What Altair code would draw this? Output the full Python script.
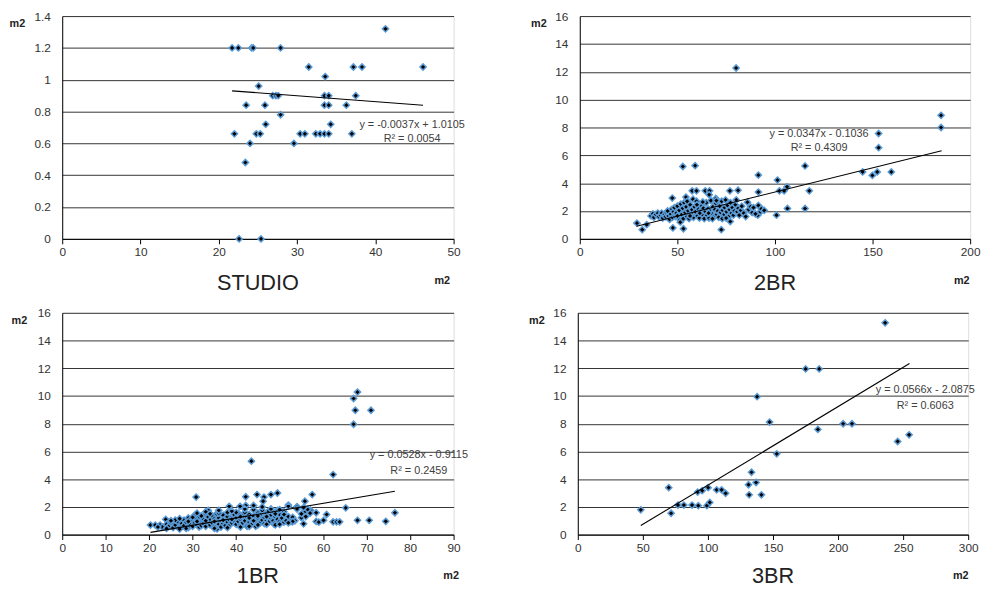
import altair as alt
import pandas as pd

FONT = "Liberation Sans"
BLUE = "#5b9bd5"

# ---------------- data (x = floor area m2, y = m2) ----------------
studio_pts = [
    (21.7, 1.2), (22.5, 1.2), (24.2, 1.2), (24.4, 1.2), (27.9, 1.2), (41.3, 1.32),
    (31.5, 1.08), (37.2, 1.08), (38.3, 1.08), (46.1, 1.08), (33.6, 1.02), (25.1, 0.96),
    (26.9, 0.9), (27.3, 0.9), (27.6, 0.9), (33.5, 0.9), (34.05, 0.9), (37.5, 0.9),
    (23.5, 0.84), (25.9, 0.84), (33.5, 0.84), (34.05, 0.84), (36.3, 0.84), (27.9, 0.78),
    (26.0, 0.72), (34.3, 0.72), (22.0, 0.66), (24.8, 0.66), (25.3, 0.66), (30.4, 0.66),
    (31.0, 0.66), (32.4, 0.66), (32.95, 0.66), (33.5, 0.66), (34.05, 0.66), (37.0, 0.66),
    (24.0, 0.6), (29.6, 0.6), (23.4, 0.48), (22.6, 0.0), (25.4, 0.0),
]

br2_pts = [
    (80.1, 12.27), (185.1, 8.87), (185.1, 8.0), (153.1, 7.57), (153.1, 6.55), (52.8, 5.2),
    (59.1, 5.26), (115.4, 5.24), (91.5, 4.58), (144.9, 4.81), (149.9, 4.56), (152.4, 4.81),
    (159.6, 4.81), (101.3, 4.22), (102.3, 3.45), (104.7, 3.45), (106.2, 3.74), (117.6, 3.45),
    (91.5, 3.36), (106.4, 2.18), (115.4, 2.18), (100.8, 1.7), (72.5, 0.66), (32.0, 0.66),
    (47.7, 0.79), (53.1, 0.73), (29.3, 1.13), (34.3, 1.02), (76.9, 3.45), (81.1, 3.49),
    (57.6, 3.45), (59.8, 3.45), (64.3, 3.45), (66.5, 3.45), (47.4, 2.93), (54.4, 3.0),
    (66.3, 3.17), (69.7, 2.9), (85.9, 2.63), (91.5, 2.4), (88.3, 1.88), (91.2, 1.7),
    (93.6, 2.1), (77.1, 1.25),
    (36.5, 1.65), (37.5, 1.8), (38.0, 1.55), (39.0, 1.75), (40.0, 1.85), (40.5, 1.6),
    (41.5, 1.7), (42.0, 1.85), (42.5, 1.5), (43.5, 1.75), (44.0, 1.6), (44.5, 1.9),
    (45.5, 1.65), (46.0, 1.4), (46.5, 1.8), (47.0, 2.1), (47.5, 1.55), (48.0, 1.95),
    (48.5, 2.25), (49.0, 1.6), (49.5, 1.85), (50.0, 2.35), (50.5, 1.5), (51.0, 2.05),
    (51.5, 1.2), (51.8, 2.5), (52.2, 1.75), (52.7, 2.2), (53.0, 1.45), (53.5, 2.6),
    (54.0, 1.9), (54.5, 2.3), (55.0, 1.6), (55.5, 2.0), (56.0, 1.45), (56.5, 2.45),
    (57.0, 1.8), (57.5, 2.1), (58.0, 2.85), (58.3, 1.55), (58.8, 2.3), (59.3, 1.95),
    (59.8, 2.7), (60.3, 1.65), (60.8, 2.15), (61.3, 1.5), (61.8, 2.0), (62.3, 2.4),
    (62.8, 1.75), (63.3, 2.2), (63.8, 1.45), (64.3, 1.95), (64.8, 2.6), (65.2, 1.7),
    (65.7, 2.15), (66.2, 1.5), (66.7, 2.0), (67.2, 2.75), (67.7, 1.8), (68.2, 2.3),
    (68.7, 1.6), (69.2, 2.1), (69.7, 2.55), (70.2, 1.75), (70.7, 2.0), (71.2, 1.55),
    (71.7, 2.35), (72.2, 1.9), (72.7, 2.7), (73.2, 2.05), (73.7, 1.7), (74.2, 2.25),
    (74.7, 2.8), (75.2, 1.95), (75.7, 2.4), (76.2, 1.6), (76.7, 2.1), (77.2, 2.6),
    (77.7, 1.85), (78.2, 2.25), (78.7, 1.7), (79.2, 2.0), (79.7, 2.45), (80.2, 2.8),
    (80.7, 1.95), (81.2, 2.2), (81.7, 1.7), (82.5, 2.05), (83.0, 2.35), (84.0, 1.85),
    (85.0, 1.6), (86.5, 2.1), (87.5, 2.3), (89.0, 2.25), (90.0, 1.8), (92.5, 1.95),
    (93.0, 2.15), (94.5, 2.05), (45.0, 2.0), (50.0, 1.65), (55.0, 2.7), (60.0, 2.45),
    (63.0, 2.65), (68.0, 1.45), (73.0, 1.45), (56.5, 1.65), (61.5, 1.85), (66.0, 1.85),
    (70.0, 2.75), (75.0, 1.5),
]

br1_pts = [
    (67.9, 10.28), (67.0, 9.82), (67.4, 8.97), (71.0, 8.97), (67.0, 7.96), (43.5, 5.3),
    (62.3, 4.33), (30.8, 2.71), (42.2, 2.73), (44.8, 2.89), (46.4, 2.71), (48.0, 2.89),
    (49.5, 3.0), (57.5, 2.89), (46.2, 2.41), (55.8, 2.41), (38.4, 2.04), (40.9, 2.04),
    (42.2, 2.1), (52.0, 2.13), (54.0, 2.02), (65.2, 1.93), (76.5, 1.58), (58.4, 1.58),
    (60.8, 1.45), (55.9, 1.67), (57.1, 1.77), (55.0, 1.22), (62.3, 0.92), (63.1, 0.92),
    (63.8, 0.92), (67.9, 1.03), (70.6, 1.03), (74.4, 0.96), (58.4, 0.95), (59.0, 0.9),
    (60.1, 1.03), (55.5, 0.78), (52.9, 0.92), (33.6, 1.74), (23.8, 1.1), (20.3, 0.69),
    (21.4, 0.69), (22.5, 0.69), (35.6, 0.41), (48.7, 0.76),
    (23.0, 0.55), (24.0, 0.75), (24.5, 0.6), (25.0, 0.85), (25.5, 0.5), (26.0, 0.7),
    (26.5, 0.95), (27.0, 0.55), (27.5, 0.8), (28.0, 1.05), (28.0, 0.65), (28.5, 0.9),
    (29.0, 0.5), (29.0, 1.2), (29.5, 0.75), (30.0, 1.0), (30.0, 0.6), (30.5, 1.4),
    (30.5, 0.85), (31.0, 0.7), (31.0, 1.15), (31.5, 0.55), (31.5, 1.3), (32.0, 0.9),
    (32.0, 0.65), (32.5, 1.1), (32.5, 0.8), (33.0, 1.45), (33.0, 0.6), (33.5, 0.95),
    (33.5, 1.25), (34.0, 0.7), (34.0, 1.05), (34.5, 0.85), (34.5, 1.35), (35.0, 0.6),
    (35.0, 1.15), (35.5, 0.9), (35.5, 1.5), (36.0, 0.75), (36.0, 1.2), (36.5, 1.0),
    (36.5, 0.55), (37.0, 1.4), (37.0, 0.8), (37.5, 1.1), (37.5, 0.65), (38.0, 1.3),
    (38.0, 0.9), (38.5, 1.05), (38.5, 0.7), (39.0, 1.25), (39.0, 0.85), (39.5, 1.45),
    (39.5, 1.0), (40.0, 0.75), (40.0, 1.2), (40.5, 0.95), (40.5, 1.55), (41.0, 1.1),
    (41.0, 0.7), (41.5, 1.35), (41.5, 0.85), (42.0, 1.0), (42.0, 1.6), (42.5, 0.6),
    (42.5, 1.25), (43.0, 0.9), (43.0, 1.45), (43.5, 1.1), (43.5, 0.75), (44.0, 1.3),
    (44.0, 1.8), (44.5, 0.95), (44.5, 0.6), (45.0, 1.2), (45.0, 1.55), (45.5, 0.85),
    (45.5, 1.4), (46.0, 1.05), (46.0, 1.75), (46.5, 1.25), (46.5, 0.8), (47.0, 1.5),
    (47.0, 1.0), (47.5, 1.7), (47.5, 0.9), (48.0, 1.2), (48.0, 1.4), (48.5, 1.0),
    (48.5, 1.6), (49.0, 0.85), (49.0, 1.3), (49.5, 1.75), (49.5, 1.1), (50.0, 1.45),
    (50.0, 0.95), (50.5, 1.2), (51.0, 0.9), (51.0, 1.65), (51.5, 1.0), (52.0, 1.3),
    (52.5, 0.95), (53.0, 1.25), (53.5, 1.0), (54.0, 1.85), (55.0, 1.5), (55.5, 1.95),
    (56.0, 1.3), (56.5, 1.8), (57.0, 1.55), (53.0, 0.95), (26.0, 1.05), (27.0, 0.4),
    (28.5, 0.45), (30.0, 1.25), (32.0, 1.35), (34.0, 1.5), (35.0, 0.45), (36.0, 1.55),
    (38.0, 0.5), (40.0, 1.6), (41.0, 0.55), (43.0, 0.6), (44.0, 1.0), (45.0, 0.7),
    (47.0, 0.75), (49.0, 0.7), (50.0, 0.75), (52.0, 0.85), (29.0, 0.95), (31.0, 0.95),
    (33.0, 1.0), (35.0, 0.95), (37.0, 1.05), (39.0, 1.1), (41.0, 1.3), (43.0, 1.2),
    (45.0, 1.35), (47.0, 1.3), (49.0, 1.5), (51.0, 1.45), (42.0, 1.85), (44.0, 2.1),
    (46.0, 2.0), (48.0, 1.85), (50.0, 1.8), (52.0, 2.05), (27.0, 1.15), (25.0, 1.0),
    (31.0, 1.55), (33.0, 1.65), (38.0, 1.6), (39.0, 1.7), (36.0, 1.75), (24.0, 0.45),
    (22.0, 0.55),
]

br3_pts = [
    (48.4, 1.79), (69.9, 3.39), (71.7, 1.54), (77.0, 2.13), (81.5, 2.13), (87.8, 2.13),
    (92.1, 3.07), (92.6, 2.09), (95.6, 3.17), (99.2, 2.09), (100.2, 3.39), (101.4, 2.32),
    (106.7, 3.23), (110.5, 3.23), (113.6, 2.98), (131.2, 3.6), (131.7, 2.87), (133.5, 4.5),
    (137.0, 3.76), (137.8, 9.95), (141.1, 2.87), (147.4, 8.12), (152.9, 5.83), (175.1, 11.95),
    (185.5, 11.95), (184.5, 7.59), (203.9, 8.0), (210.7, 8.0), (236.2, 15.28), (245.8, 6.72),
    (254.6, 7.2),
]

panel_names = ["STUDIO", "2BR", "1BR", "3BR"]
x_max = [50, 200, 90, 300]
x_step = [10, 50, 10, 50]
y_ticks = [
    [0, 0.2, 0.4, 0.6, 0.8, 1, 1.2, 1.4],
    [0, 2, 4, 6, 8, 10, 12, 14, 16],
    [0, 2, 4, 6, 8, 10, 12, 14, 16],
    [0, 2, 4, 6, 8, 10, 12, 14, 16],
]
slopes = [-0.0037, 0.0347, 0.0528, 0.0566]
intercepts = [1.0105, -0.1036, -0.9115, -2.0875]
trend_x = [[21.7, 46.1], [29.1, 185.4], [20.3, 76.5], [48.4, 254.9]]
eq_text = ["y = -0.0037x + 1.0105", "y = 0.0347x - 0.1036", "y = 0.0528x - 0.9115", "y = 0.0566x - 2.0875"]
r2_text = ["R² = 0.0054", "R² = 0.4309", "R² = 0.2459", "R² = 0.6063"]
label_x = [44.7, 122.6, 82.0, 267.0]
label_y1 = [0.715, 7.56, 5.72, 10.41]
label_y2 = [0.625, 6.54, 4.62, 9.31]

all_pts = [studio_pts, br2_pts, br1_pts, br3_pts]

# layout (pixels)
widths = [397, 396, 397, 396]
heights = [226, 226, 225, 225]
ytitle_x = [-46, -42, -44, -42]
xtitle_dx = [12, 9, 3, 8]
title_offset = [-12, -12, -15, -15]


def make_panel(i):
    pts = pd.DataFrame(all_pts[i], columns=["x", "y"])
    tx = trend_x[i]
    trend = pd.DataFrame({"x": tx, "y": [slopes[i] * v + intercepts[i] for v in tx]})
    labels = pd.DataFrame({
        "x": [label_x[i], label_x[i]],
        "y": [label_y1[i], label_y2[i]],
        "t": [eq_text[i], r2_text[i]],
    })
    w, h = widths[i], heights[i]
    ymax = y_ticks[i][-1]
    x_enc = alt.X(
        "x:Q",
        scale=alt.Scale(domain=[0, x_max[i]], nice=False, zero=True),
        axis=alt.Axis(
            values=list(range(0, x_max[i] + 1, x_step[i])),
            format="d", grid=False, domainColor="black", tickColor="black",
            tickSize=5, labelPadding=3, labelFlush=False, labelFont=FONT,
            labelFontSize=12, labelColor="#333333", title="m2",
            titleX=w - xtitle_dx[i], titleY=42, titleAlign="center",
            titleBaseline="middle", titleFont=FONT, titleFontSize=11,
            titleFontWeight="bold", titleColor="#222222",
        ),
    )
    y_enc = alt.Y(
        "y:Q",
        scale=alt.Scale(domain=[0, ymax], nice=False, zero=True),
        axis=alt.Axis(
            values=y_ticks[i], format="~g", grid=True, gridColor="#333333",
            gridWidth=1, ticks=False, domainColor="black", labelPadding=12,
            labelFlush=False, labelFont=FONT, labelFontSize=12, labelColor="#333333",
            title="m2", titleAngle=0, titleX=ytitle_x[i], titleY=8,
            titleAlign="center", titleBaseline="middle", titleFont=FONT,
            titleFontSize=11, titleFontWeight="bold", titleColor="#222222",
        ),
    )
    points = alt.Chart(pts).mark_point(
        shape="diamond", filled=True, fill="black", stroke=BLUE,
        strokeWidth=1.5, size=40, opacity=1,
    ).encode(x=x_enc, y=y_enc)
    line = alt.Chart(trend).mark_line(color="black", strokeWidth=1.1).encode(x=x_enc, y=y_enc)
    text = alt.Chart(labels).mark_text(
        font=FONT, fontSize=11, color="#404040", align="center", baseline="middle"
    ).encode(x=x_enc, y=y_enc, text="t:N")
    return alt.layer(points, line, text).properties(
        width=w, height=h,
        title=alt.TitleParams(
            text=panel_names[i], orient="bottom", anchor="middle", frame="group",
            font=FONT, fontSize=22, fontWeight="normal", color="#222222",
            offset=title_offset[i],
        ),
    )


PAD = {"left": 0, "top": -3, "right": 0, "bottom": 0}

row1 = alt.hconcat(make_panel(0), make_panel(1), spacing=65)
row2 = alt.hconcat(make_panel(2), make_panel(3), spacing=59)
chart = (
    alt.vconcat(row1, row2, spacing=11)
    .properties(padding=PAD)
    .configure_view(stroke="black", strokeWidth=1)
    .configure(background="white", padding=PAD)
)

chart.save("out.html", embed_options={"renderer": "svg", "actions": False})
